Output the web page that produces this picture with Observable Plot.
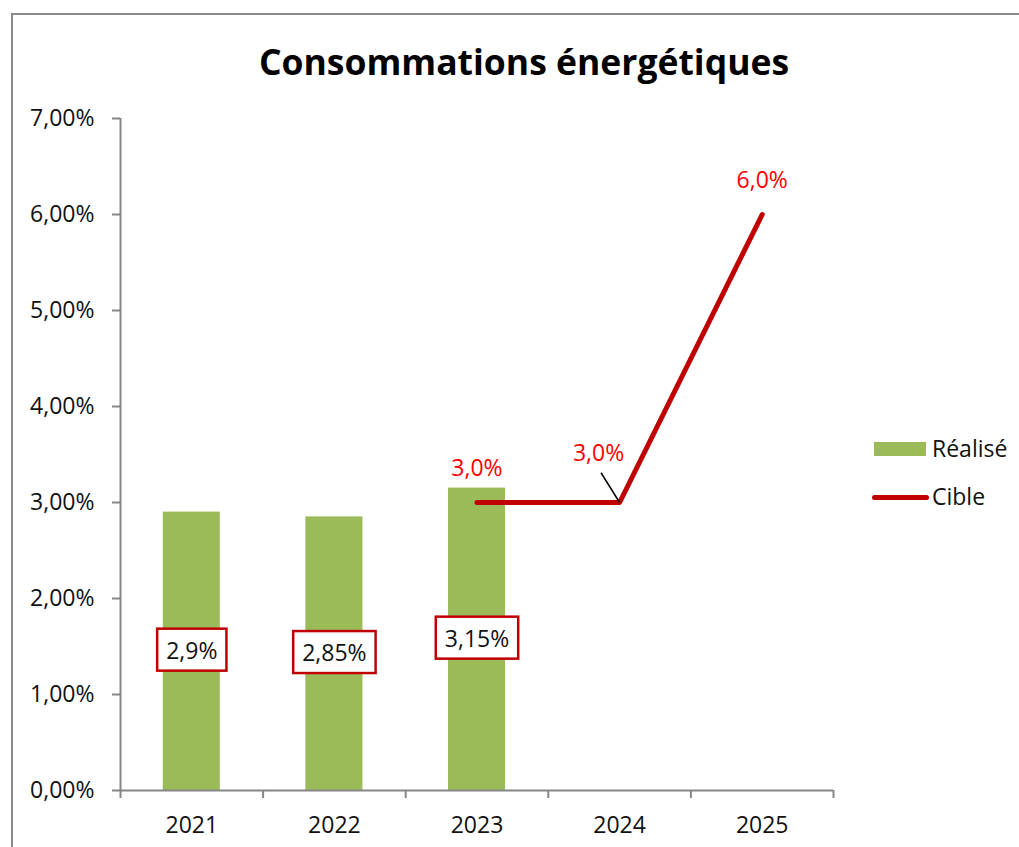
<!DOCTYPE html>
<html><head><meta charset="utf-8">
<script src="https://cdn.jsdelivr.net/npm/d3@7"></script>
<script src="https://cdn.jsdelivr.net/npm/@observablehq/plot@0.6"></script>
<style>
html,body{margin:0;padding:0;background:#fff;overflow:hidden;font-family:"Open Sans",sans-serif;}
#wrap{position:relative;width:1019px;height:847px;overflow:hidden;}
#border{position:absolute;left:11px;top:13px;width:1100px;height:1000px;border:2px solid #8a8a8a;box-sizing:border-box;}
#title{position:absolute;left:0;width:1048px;top:44px;text-align:center;font-weight:700;font-size:35.5px;line-height:1;color:#000;}
#wrap svg{position:absolute;left:0;top:0;}
.sw{position:absolute;}
.lt{position:absolute;font-size:23px;line-height:1;color:#111;}
</style>
</head><body>
<div id="wrap">
  <div id="border"></div>
  <div id="title">Consommations énergétiques</div>
  <div class="sw" style="left:874px;top:442px;width:52px;height:14px;background:#9BBB59"></div>
  <div class="lt" style="left:932px;top:437px">Réalisé</div>
  <div class="sw" style="left:872px;top:495px;width:57px;height:5px;border-radius:3px;background:#C00000"></div>
  <div class="lt" style="left:932px;top:485px">Cible</div>
</div>
<script>
const years = [2021, 2022, 2023, 2024, 2025];
const realYears = [2021, 2022, 2023];
const realValues = [2.9, 2.85, 3.15];
const cibleYears = [2023, 2024, 2025];
const cibleValues = [3.0, 3.0, 6.0];
const yTicks = [0, 1, 2, 3, 4, 5, 6, 7];

const real = realYears.map((y, i) => ({year: y, value: realValues[i]}));
const cible = cibleYears.map((y, i) => ({year: y, value: cibleValues[i]}));
const bounds = years.map(y => y - 0.5).concat([years[years.length - 1] + 0.5]);
const comma = s => s.replace(".", ",");

const chart = Plot.plot({
  width: 1019, height: 847,
  marginLeft: 120, marginRight: 186, marginTop: 118, marginBottom: 57,
  x: {domain: [bounds[0], bounds[bounds.length - 1]]},
  y: {domain: [0, 7]},
  style: {fontFamily: "Open Sans", fontSize: "23px", background: "transparent", color: "#111"},
  marks: [
    Plot.rectY(real, {x1: d => d.year - 0.2, x2: d => d.year + 0.2, y: "value", fill: "#9BBB59"}),
    Plot.ruleX([bounds[0]], {y1: 0, y2: 7, stroke: "#868686", strokeWidth: 2}),
    Plot.ruleY([0], {stroke: "#868686", strokeWidth: 2}),
    Plot.axisY({ticks: yTicks, tickSize: 8, tickPadding: 18, tickFormat: d => comma(d.toFixed(2)) + "%",
      stroke: "#868686", strokeWidth: 2, fill: "#111", fontSize: 23, label: null}),
    Plot.axisX({ticks: bounds, tickSize: 8, tickFormat: () => "", stroke: "#868686", strokeWidth: 2, label: null}),
    Plot.axisX({ticks: years, tickSize: 0, tickPadding: 26, tickFormat: d => String(d), fill: "#111", fontSize: 23, label: null}),
    Plot.line(cible, {x: "year", y: "value", stroke: "#C00000", strokeWidth: 5, strokeLinecap: "round"}),
    Plot.link(cible.filter(d => d.year === 2024), {x1: d => d.year - 0.13, y1: d => d.value + 0.31, x2: "year", y2: "value", stroke: "#000", strokeWidth: 1.5}),
    Plot.text(cible.filter(d => d.year !== 2024), {x: "year", y: "value", text: d => comma(d.value.toFixed(1)) + "%", fill: "#FF0000", fontSize: 23, dy: -34}),
    Plot.text(cible.filter(d => d.year === 2024), {x: "year", y: "value", text: d => comma(d.value.toFixed(1)) + "%", fill: "#FF0000", fontSize: 23, dx: -21, dy: -49}),
    Plot.text(real, {x: "year", y: d => d.value / 2, text: d => comma(String(d.value)) + "%", fill: "#111", fontSize: 23, className: "boxlbl"})
  ]
});
document.getElementById("wrap").appendChild(chart);

chart.querySelectorAll(".boxlbl text").forEach(t => {
  const b = t.getBBox();
  const r = document.createElementNS("http://www.w3.org/2000/svg", "rect");
  const cy = b.y + b.height / 2;
  r.setAttribute("x", b.x - 9);
  r.setAttribute("y", cy - 21);
  r.setAttribute("width", b.width + 18);
  r.setAttribute("height", 42);
  r.setAttribute("fill", "#fff");
  r.setAttribute("stroke", "#C00000");
  r.setAttribute("stroke-width", 2.5);
  if (t.getAttribute("transform")) r.setAttribute("transform", t.getAttribute("transform"));
  t.parentNode.insertBefore(r, t);
});
</script>
</body></html>
